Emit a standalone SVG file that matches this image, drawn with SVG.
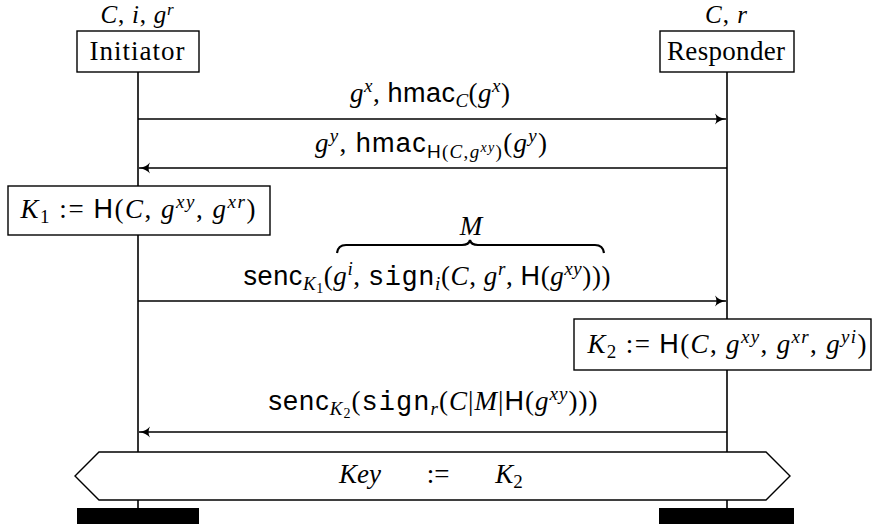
<svg xmlns="http://www.w3.org/2000/svg" width="872" height="524" viewBox="0 0 872 524">
<style>
.rm{font-family:"Liberation Serif",serif;font-style:normal}
.it{font-family:"Liberation Serif",serif;font-style:italic}
.sf{font-family:"Liberation Sans",sans-serif;font-style:normal}
.tt{font-family:"Liberation Mono",monospace;font-style:normal}
text{fill:#000;font-size:27px;font-family:"Liberation Serif",serif}
.box{fill:#fff;stroke:#000;stroke-width:1.4}
.life{stroke:#000;stroke-width:1.6;fill:none}
.msg{stroke:#000;stroke-width:1.5;fill:none}
</style>
<defs>
<marker id="ah" markerUnits="userSpaceOnUse" markerWidth="14" markerHeight="14" refX="11" refY="6" orient="auto">
<path d="M0,0.5 Q4,5 11,6 Q4,7 0,11.5 Q3,6 0,0.5 Z" fill="#000"/>
</marker>
</defs>
<g id="lifelines">
<line class="life" x1="138" y1="72" x2="138" y2="508"/>
<line class="life" x1="727" y1="72" x2="727" y2="508"/>
</g>
<g id="initiator">
<text x="137" y="23" text-anchor="middle" style="font-size:25px" textLength="73" lengthAdjust="spacing"><tspan class="it">C</tspan><tspan class="rm">, </tspan><tspan class="it">i</tspan><tspan class="rm">, </tspan><tspan class="it">g</tspan><tspan class="it" font-size="17" dy="-8">r</tspan></text>
<rect class="box" x="77" y="31" width="122" height="41"/>
<text x="137" y="60" text-anchor="middle" class="rm" textLength="95" lengthAdjust="spacing">Initiator</text>
<rect x="77" y="508" width="122" height="16" fill="#000"/>
</g>
<g id="responder">
<text x="726" y="23" text-anchor="middle" style="font-size:25px" textLength="42" lengthAdjust="spacing"><tspan class="it">C</tspan><tspan class="rm">, </tspan><tspan class="it">r</tspan></text>
<rect class="box" x="660" y="31" width="134" height="41"/>
<text x="726" y="60" text-anchor="middle" class="rm" textLength="118" lengthAdjust="spacing">Responder</text>
<rect x="659" y="508" width="135" height="16" fill="#000"/>
</g>
<g id="connectors">
<line class="msg" x1="138" y1="119" x2="726" y2="119" marker-end="url(#ah)"/>
<line class="msg" x1="727" y1="168" x2="139" y2="168" marker-end="url(#ah)"/>
<line class="msg" x1="138" y1="301" x2="726" y2="301" marker-end="url(#ah)"/>
<line class="msg" x1="727" y1="432" x2="139" y2="432" marker-end="url(#ah)"/>
</g>
<g id="msg1-label">
<text x="430" y="102" text-anchor="middle" textLength="160" lengthAdjust="spacing"><tspan class="it">g</tspan><tspan class="it" font-size="19" dy="-10">x</tspan><tspan class="rm" dy="10">, </tspan><tspan class="sf">hmac</tspan><tspan class="it" font-size="19" dy="5">C</tspan><tspan class="rm" dy="-5">(</tspan><tspan class="it">g</tspan><tspan class="it" font-size="19" dy="-10">x</tspan><tspan class="rm" dy="10">)</tspan></text>
</g>
<g id="msg2-label">
<text x="431" y="152" text-anchor="middle" textLength="232" lengthAdjust="spacing"><tspan class="it">g</tspan><tspan class="it" font-size="19" dy="-10">y</tspan><tspan class="rm" dy="10">, </tspan><tspan class="sf">hmac</tspan><tspan class="sf" font-size="19" dy="6">H</tspan><tspan class="rm" font-size="19">(</tspan><tspan class="it" font-size="19">C</tspan><tspan class="rm" font-size="19">,</tspan><tspan class="it" font-size="19">g</tspan><tspan class="it" font-size="14" dy="-6">xy</tspan><tspan class="rm" font-size="19" dy="6">)</tspan><tspan class="rm" dy="-6">(</tspan><tspan class="it">g</tspan><tspan class="it" font-size="19" dy="-10">y</tspan><tspan class="rm" dy="10">)</tspan></text>
</g>
<g id="k1">
<rect class="box" x="8" y="186" width="262" height="49"/>
<text x="138" y="218" text-anchor="middle" textLength="235" lengthAdjust="spacing"><tspan class="it">K</tspan><tspan class="rm" font-size="19" dy="5">1</tspan><tspan class="rm" dy="-5"> := </tspan><tspan class="sf">H</tspan><tspan class="rm">(</tspan><tspan class="it">C</tspan><tspan class="rm">, </tspan><tspan class="it">g</tspan><tspan class="it" font-size="19" dy="-10">xy</tspan><tspan class="rm" dy="10">, </tspan><tspan class="it">g</tspan><tspan class="it" font-size="19" dy="-10">xr</tspan><tspan class="rm" dy="10">)</tspan></text>
</g>
<g id="msg3-label">
<text x="471" y="235" text-anchor="middle" class="it" font-size="16">M</text>
<path d="M337,253 Q338,245 346,245 L462,245 Q469,245 470,240 Q471,245 478,245 L595,245 Q603,245 604,253" fill="none" stroke="#000" stroke-width="2.2"/>
<text x="427" y="285" text-anchor="middle" textLength="367" lengthAdjust="spacing"><tspan class="sf">senc</tspan><tspan class="it" font-size="19" dy="5">K</tspan><tspan class="rm" font-size="14" dy="3">1</tspan><tspan class="rm" dy="-8">(</tspan><tspan class="it">g</tspan><tspan class="it" font-size="19" dy="-10">i</tspan><tspan class="rm" dy="10">, </tspan><tspan class="tt">sign</tspan><tspan class="it" font-size="19" dy="5">i</tspan><tspan class="rm" dy="-5">(</tspan><tspan class="it">C</tspan><tspan class="rm">, </tspan><tspan class="it">g</tspan><tspan class="it" font-size="19" dy="-10">r</tspan><tspan class="rm" dy="10">, </tspan><tspan class="sf">H</tspan><tspan class="rm">(</tspan><tspan class="it">g</tspan><tspan class="it" font-size="19" dy="-10">xy</tspan><tspan class="rm" dy="10">)))</tspan></text>
</g>
<g id="k2">
<rect class="box" x="574" y="319" width="297" height="51"/>
<text x="727" y="353" text-anchor="middle" textLength="279" lengthAdjust="spacing"><tspan class="it">K</tspan><tspan class="rm" font-size="19" dy="5">2</tspan><tspan class="rm" dy="-5"> := </tspan><tspan class="sf">H</tspan><tspan class="rm">(</tspan><tspan class="it">C</tspan><tspan class="rm">, </tspan><tspan class="it">g</tspan><tspan class="it" font-size="19" dy="-10">xy</tspan><tspan class="rm" dy="10">, </tspan><tspan class="it">g</tspan><tspan class="it" font-size="19" dy="-10">xr</tspan><tspan class="rm" dy="10">, </tspan><tspan class="it">g</tspan><tspan class="it" font-size="19" dy="-10">yi</tspan><tspan class="rm" dy="10">)</tspan></text>
</g>
<g id="msg4-label">
<text x="433" y="410" text-anchor="middle" textLength="329" lengthAdjust="spacing"><tspan class="sf">senc</tspan><tspan class="it" font-size="19" dy="5">K</tspan><tspan class="rm" font-size="14" dy="3">2</tspan><tspan class="rm" dy="-8">(</tspan><tspan class="tt">sign</tspan><tspan class="it" font-size="19" dy="5">r</tspan><tspan class="rm" dy="-5">(</tspan><tspan class="it">C</tspan><tspan class="rm">|</tspan><tspan class="it">M</tspan><tspan class="rm">|</tspan><tspan class="sf">H</tspan><tspan class="rm">(</tspan><tspan class="it">g</tspan><tspan class="it" font-size="19" dy="-10">xy</tspan><tspan class="rm" dy="10">)))</tspan></text>
</g>
<g id="key">
<polygon class="box" points="75,476 99,452 766,452 790,476 766,500 99,500"/>
<text x="360" y="483" text-anchor="middle" class="it">Key</text>
<text x="438" y="483" text-anchor="middle" class="rm">:=</text>
<text x="509" y="483" text-anchor="middle"><tspan class="it">K</tspan><tspan class="rm" font-size="19" dy="5">2</tspan></text>
</g>
</svg>
